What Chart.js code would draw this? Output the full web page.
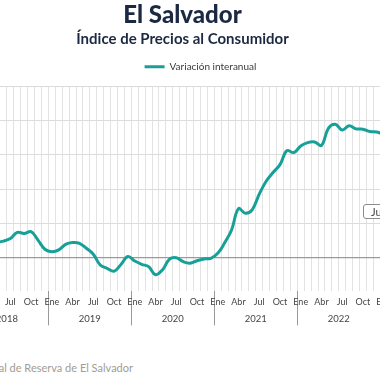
<!DOCTYPE html>
<html>
<head>
<meta charset="utf-8">
<script src="https://cdn.jsdelivr.net/npm/chart.js@4.4.0/dist/chart.umd.min.js"></script>
<style>
  html, body { margin: 0; padding: 0; width: 380px; height: 380px; overflow: hidden; background: #ffffff; position: relative; }
  #wrap { position: absolute; left: -73px; top: 0; width: 511px; height: 340px; }
  #src { position: absolute; right: 247px; top: 361px; white-space: nowrap; font: 11px Lato, sans-serif; color: #a39c92; }
  #tip { position: absolute; left: 363px; top: 204px; height: 13px; line-height: 13px; padding: 0 7px; border: 1.5px solid #8c8c8c; border-radius: 3px; background: #fff; font: 11px Lato, sans-serif; color: #444; white-space: nowrap; }
</style>
</head>
<body>
<div id="wrap"><canvas id="c" width="511" height="340"></canvas></div>
<div id="tip">Jul 2023</div>
<div id="src">Fuente: Banco Central de Reserva de El Salvador</div>
<script>
// ---- data ----
const monthAbbr = ['Ene','Feb','Mar','Abr','May','Jun','Jul','Ago','Sep','Oct','Nov','Dic'];
const years = [2018, 2019, 2020, 2021, 2022, 2023];
const monthCount = 68; // Ene 2018 .. Ago 2023

const values2018 = [1.00, 1.00, 0.90, 0.90, 0.88, 0.95, 1.10, 1.46, 1.40, 1.50, 1.01, 0.47];
const values2019 = [0.33, 0.43, 0.76, 0.86, 0.82, 0.53, 0.18, -0.45, -0.65, -0.82, -0.42, 0.05];
const values2020 = [-0.22, -0.41, -0.55, -1.02, -0.74, -0.12, -0.03, -0.26, -0.35, -0.20, -0.10, -0.06];
const values2021 = [0.23, 0.85, 1.60, 2.85, 2.58, 2.80, 3.70, 4.46, 4.97, 5.43, 6.25, 6.14];
const values2022 = [6.52, 6.72, 6.76, 6.56, 7.56, 7.80, 7.46, 7.71, 7.53, 7.51, 7.37, 7.34];
const values2023 = [7.20, null, null, null, null, null, null, null];

const yTicksMin = -2, yTicksMax = 10, yStep = 2;

const labels = [];
for (let i = 0; i < monthCount; i++) {
  labels.push(monthAbbr[i % 12] + ' ' + years[Math.floor(i / 12)]);
}
const inflation = [].concat(values2018, values2019, values2020, values2021, values2022, values2023);

// ---- chart ----
Chart.defaults.font.family = 'Lato, sans-serif';
const teal = '#17a098';

new Chart(document.getElementById('c'), {
  type: 'line',
  data: {
    labels: labels,
    datasets: [{
      label: 'Variación interanual',
      data: inflation,
      borderColor: teal,
      backgroundColor: teal,
      borderWidth: 3,
      pointRadius: 0,
      tension: 0.4,
      fill: false,
      spanGaps: false
    }]
  },
  options: {
    responsive: false,
    devicePixelRatio: 1,
    animation: false,
    events: [],
    layout: { padding: { left: 0, right: 0, top: 0, bottom: 11.6 } },
    plugins: {
      title: {
        display: true,
        text: 'El Salvador',
        color: '#1b2942',
        font: { family: 'Lato', size: 24, weight: '900' },
        padding: { top: 1, bottom: 0 }
      },
      subtitle: {
        display: true,
        text: 'Índice de Precios al Consumidor',
        color: '#1b2942',
        font: { family: 'Lato', size: 15, weight: 'bold' },
        padding: { top: 0, bottom: 0 }
      },
      legend: {
        display: true,
        position: 'top',
        align: 'center',
        fullSize: false,
        labels: {
          boxWidth: 20,
          boxHeight: 3,
          padding: 14,
          color: '#3a3a3a',
          font: { family: 'Lato', size: 10 },
          generateLabels: (chart) => Chart.defaults.plugins.legend.labels.generateLabels(chart).map(l => Object.assign(l, { lineWidth: 0, fillStyle: teal }))
        }
      },
      tooltip: { enabled: false }
    },
    scales: {
      x: {
        type: 'category',
        position: 'bottom',
        offset: true,
        grid: {
          offset: true,
          color: '#e3e3e3',
          lineWidth: 1,
          drawTicks: true,
          tickLength: 34,
          tickColor: (c) => (c.index !== undefined && c.index % 12 === 0) ? '#9a9a9a' : 'rgba(0,0,0,0)'
        },
        border: { display: false },
        ticks: {
          autoSkip: false,
          maxRotation: 0,
          minRotation: 0,
          padding: -28.4,
          color: '#444',
          font: { family: 'Lato', size: 9 },
          callback: (v, i) => (i % 3 === 0 ? monthAbbr[i % 12] : '')
        },
        afterFit: (s) => { s.height = 17; }
      },
      x2: {
        type: 'linear',
        position: 'bottom',
        min: 0,
        max: monthCount,
        grid: { display: false, drawTicks: false },
        border: { display: false },
        afterBuildTicks: (s) => { s.ticks = years.map((y, i) => ({ value: i * 12 + 6 })); },
        ticks: {
          autoSkip: false,
          maxRotation: 0,
          padding: 5.2,
          color: '#444',
          font: { family: 'Lato', size: 9.5 },
          callback: (v) => String(years[Math.round((v - 6) / 12)])
        },
        afterFit: (s) => { s.height = 20; }
      },
      xt: {
        type: 'category',
        position: 'top',
        grid: { display: false },
        border: { display: false },
        ticks: { display: false },
        afterFit: (s) => { s.height = 4.9; }
      },
      y: {
        type: 'linear',
        position: 'left',
        min: yTicksMin,
        max: yTicksMax,
        ticks: { stepSize: yStep, color: '#444', font: { size: 9 } },
        grid: {
          drawTicks: false,
          color: (c) => c.tick.value === 0 ? '#9a9a9a' : (c.tick.value === yTicksMin ? 'rgba(0,0,0,0)' : '#dcdcdc'),
          lineWidth: (c) => c.tick.value === 0 ? 1.2 : 1
        },
        border: { display: false },
        afterFit: (s) => { s.width = 38.4; }
      }
    }
  }
});
</script>
</body>
</html>
